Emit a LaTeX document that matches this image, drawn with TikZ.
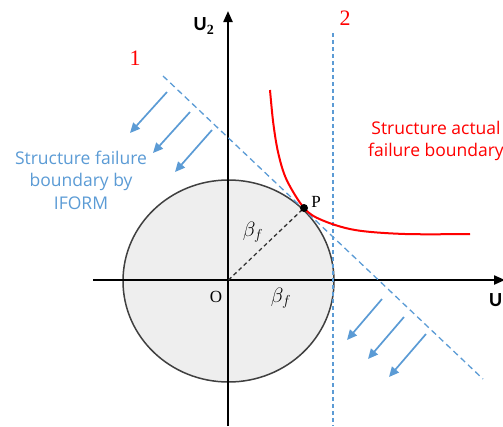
\documentclass[tikz,border=0pt]{standalone}
\usepackage{fontspec}
\setmainfont{Liberation Serif}
\newfontfamily\labsans{Open Sans}
\newfontfamily\axsans{Carlito}
\usetikzlibrary{arrows.meta}
\definecolor{ublue}{RGB}{91,155,213}
\definecolor{ured}{RGB}{255,0,0}
\definecolor{cfill}{RGB}{238,238,238}
\tikzset{
  axis/.style={line width=2.2pt,-{Triangle[length=11pt,width=9pt]}},
  tangent/.style={ublue,line width=1.3pt,dash pattern=on 6pt off 4pt},
  vline/.style={ublue,line width=1.3pt,dash pattern=on 4pt off 3pt},
  fail/.style={ublue,line width=1.7pt,-{Triangle[length=10pt,width=9pt]}},
  bluetxt/.style={text=ublue,font=\labsans\fontsize{17.5}{22.5}\selectfont,align=center},
  redtxt/.style={text=ured,font=\labsans\fontsize{17.5}{22.5}\selectfont,align=center},
  numlab/.style={text=ured,font=\fontsize{22}{22}\selectfont},
  ser/.style={font=\fontsize{17}{17}\selectfont},
}
\begin{document}
\begin{tikzpicture}[x=1pt,y=-1pt]
\useasboundingbox (0,0) rectangle (503,426);
% circle
\coordinate (O) at (228.5,280);
\filldraw[fill=cfill,draw=black!75,line width=1.5pt] (228.5,281) ellipse [x radius=105.5, y radius=101];
% axes
\coordinate (xs) at (93,280);
\coordinate (xe) at (505,280);
\coordinate (ys) at (228,426);
\coordinate (ye) at (228,11);
\draw[axis] (xs) -- (xe);
\draw[axis] (ys) -- (ye);
\node[font=\axsans\bfseries\fontsize{20}{20}\selectfont] (u2) at (204,26) {U$_\mathbf{2}$};
\node[font=\axsans\bfseries\fontsize{20}{20}\selectfont,anchor=west,inner sep=0pt] (u1) at (489,302) {U$_\mathbf{1}$};
% boundaries
\coordinate (t1) at (163,76);
\coordinate (t2) at (483,379);
\draw[tangent] (t1) -- (t2);
\coordinate (v1) at (333,33);
\coordinate (v2) at (333,426);
\draw[vline] (v1) -- (v2);
% actual failure boundary
\draw[ured,line width=2pt] plot[smooth,tension=0.55] coordinates{(270,90) (273.3,123.3) (278.3,153.3) (286.7,180) (304.3,208.3) (321.7,220) (355,230) (405,234) (470,234)};
% P
\coordinate (P) at (304,208);
\draw[black!80,line width=1.3pt,dash pattern=on 4pt off 3pt] (O) -- (P);
\fill (P) circle (4pt);
\node[ser] (plab) at (316,202) {P};
\node[ser] (olab) at (216,297) {O};
\node[font=\fontsize{21}{21}\selectfont] (b1) at (253,232) {$\beta_f$};
\node[font=\fontsize{21}{21}\selectfont] (b2) at (281,298) {$\beta_f$};
% numbers
\node[numlab] (n1) at (135,58) {1};
\node[numlab] (n2) at (345,18) {2};
% arrows
\coordinate (a1s) at (167,92);  \coordinate (a1e) at (130,133);
\coordinate (a2s) at (190,112); \coordinate (a2e) at (153,153);
\coordinate (a3s) at (212,130); \coordinate (a3e) at (175,172);
\coordinate (b1s) at (382,299); \coordinate (b1e) at (347,340);
\coordinate (b2s) at (404,317); \coordinate (b2e) at (368,359);
\coordinate (b3s) at (426,334); \coordinate (b3e) at (389,377);
\foreach \s/\e in {a1s/a1e,a2s/a2e,a3s/a3e,b1s/b1e,b2s/b2e,b3s/b3e}
  \draw[fail] (\s) -- (\e);
% texts
\node[bluetxt] (iform) at (81,180) {Structure failure\\boundary by\\IFORM};
\node[redtxt] (actual) at (436,141) {Structure actual\\failure boundary};
\end{tikzpicture}
\end{document}
